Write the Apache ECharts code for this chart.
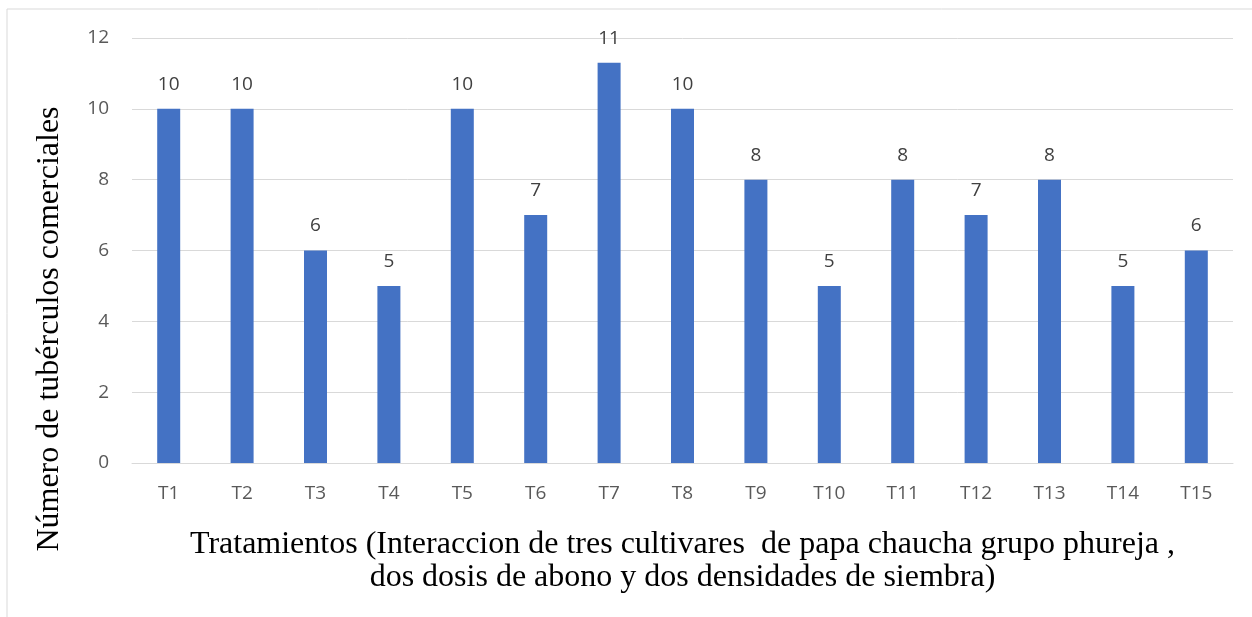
<!DOCTYPE html>
<html>
<head>
<meta charset="utf-8">
<script src="https://cdn.jsdelivr.net/npm/echarts@6/dist/echarts.min.js"></script>
<style>
  html, body { margin: 0; padding: 0; background: #fff; }
  #chart { width: 1252px; height: 617px; }
</style>
</head>
<body>
<div id="chart"></div>
<script>
// categorías (tratamientos)
const categories = ['T1', 'T2', 'T3', 'T4', 'T5', 'T6', 'T7', 'T8', 'T9', 'T10', 'T11', 'T12', 'T13', 'T14', 'T15'];
// número de tubérculos comerciales
const values = [10, 10, 6, 5, 10, 7, 11.3, 10, 8, 5, 8, 7, 8, 5, 6];
const yTicks = [0, 2, 4, 6, 8, 10, 12];

const chart = echarts.init(document.getElementById('chart'));

const option = {
  animation: false,
  graphic: [{
    type: 'rect',
    shape: { x: 7, y: 9, width: 1260, height: 620 },
    style: { fill: 'none', stroke: '#d9d9d9', lineWidth: 1 },
    silent: true
  }, {
    // título del eje Y (centrado en el alto del gráfico, como en Excel)
    type: 'text',
    x: 50,
    y: 329,
    rotation: Math.PI / 2,
    style: {
      text: 'Número de tubérculos comerciales',
      fontFamily: 'Liberation Serif',
      fontSize: 32,
      fill: '#000',
      align: 'center',
      verticalAlign: 'middle'
    },
    silent: true
  }],
  grid: {
    left: 132,
    right: 19,
    top: 38,
    bottom: 154
  },
  xAxis: {
    type: 'category',
    data: categories,
    name: 'Tratamientos (Interaccion de tres cultivares  de papa chaucha grupo phureja ,\ndos dosis de abono y dos densidades de siembra)',
    nameLocation: 'middle',
    nameGap: 65,
    nameTextStyle: {
      fontFamily: 'Liberation Serif',
      fontSize: 32,
      color: '#000',
      lineHeight: 33
    },
    axisLine: { lineStyle: { color: '#d9d9d9', width: 1 } },
    axisTick: { show: false },
    axisLabel: {
      color: '#595959',
      fontFamily: 'Open Sans',
      fontSize: 19,
      margin: 21
    }
  },
  yAxis: {
    type: 'value',
    min: yTicks[0],
    max: yTicks[yTicks.length - 1],
    interval: 2,
    axisLine: { show: false },
    axisTick: { show: false },
    axisLabel: {
      color: '#595959',
      fontFamily: 'Open Sans',
      fontSize: 19,
      margin: 23
    },
    splitLine: { lineStyle: { color: '#d9d9d9', width: 1 } }
  },
  series: [{
    type: 'bar',
    data: values,
    barWidth: 23,
    itemStyle: { color: '#4472c4' },
    label: {
      show: true,
      position: 'top',
      distance: 15,
      color: '#404040',
      fontFamily: 'Open Sans',
      fontSize: 19,
      formatter: p => Math.round(p.value)
    }
  }]
};

chart.setOption(option);
</script>
</body>
</html>
